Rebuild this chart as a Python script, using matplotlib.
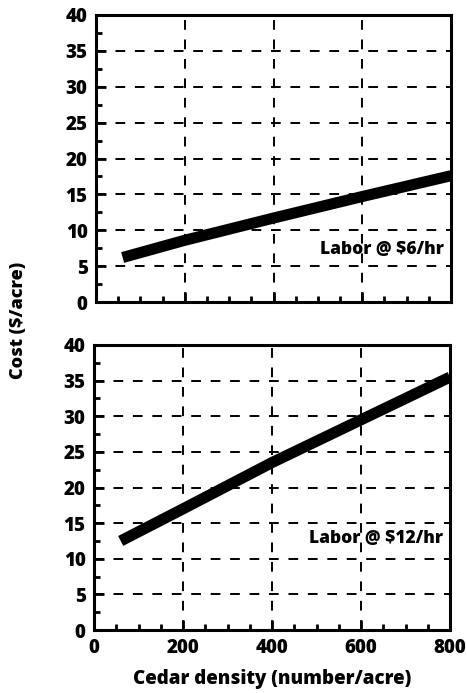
import numpy as np
import matplotlib.pyplot as plt
from matplotlib.ticker import MultipleLocator

plt.rcParams['font.family'] = ['Open Sans', 'DejaVu Sans']
plt.rcParams['font.weight'] = 'heavy'

density = [60, 200, 400, 600, 800]
cost_6 = [6.2, 8.6, 11.7, 14.7, 17.6]
cost_12 = [12.5, 17.0, 23.5, 29.5, 35.5]
panels = [(cost_6, 'Labor @ $6/hr', 7.3), (cost_12, 'Labor @ $12/hr', 12.8)]

fig = plt.figure(figsize=(4.67, 6.93), dpi=100)
ax1 = fig.add_axes([96/467, 1-302/693, 355/467, 287/693])
ax2 = fig.add_axes([94/467, 1-630/693, 356/467, 285/693])

for ax, (vals, label, ly) in zip([ax1, ax2], panels):
    ax.plot(density, vals, color='black', lw=8, solid_capstyle='butt')
    ax.set_xlim(0, 800)
    ax.set_ylim(0, 40)
    ax.xaxis.set_major_locator(MultipleLocator(200))
    ax.xaxis.set_minor_locator(MultipleLocator(50))
    ax.yaxis.set_major_locator(MultipleLocator(5))
    ax.yaxis.set_minor_locator(MultipleLocator(2.5))
    ax.tick_params(which='both', direction='in', width=2, top=False, right=False)
    ax.tick_params(which='major', length=7, labelsize=13.5, pad=6)
    ax.tick_params(which='minor', length=4)
    ax.grid(True, which='major', color='black', ls=(0, (5, 5)), lw=1.4)
    for s in ax.spines.values():
        s.set_linewidth(2.2)
    ax.text(785, ly, label, ha='right', va='center', fontsize=12.5, fontweight='heavy')

ax1.set_xticklabels([])
ax2.set_xlabel('Cedar density (number/acre)', fontsize=13.5, fontweight='heavy', labelpad=8)
fig.text(0.04, 1-320/693, 'Cost ($/acre)', rotation=90, ha='center', va='center',
         fontsize=13, fontweight='heavy')

fig.savefig('out.png', dpi=100)
